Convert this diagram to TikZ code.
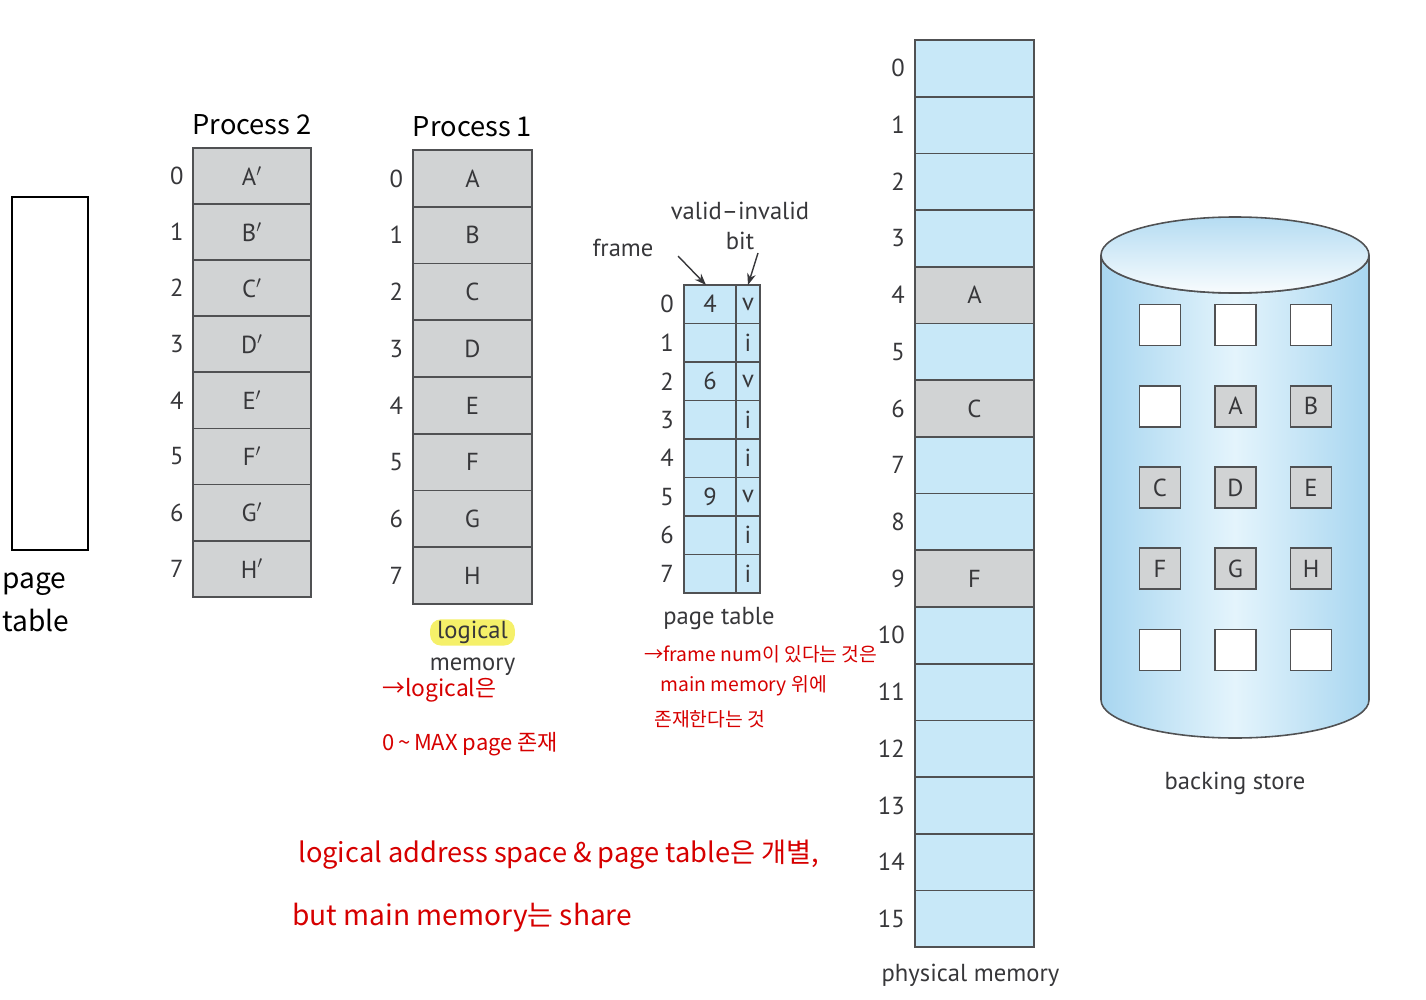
\documentclass[tikz,border=0pt]{standalone}
\usepackage{fontspec}
\setmainfont{PT Sans}
\newfontfamily\handfont{Noto Sans CJK KR}
\usetikzlibrary{arrows.meta, positioning}
\definecolor{memblue}{RGB}{200,232,248}
\definecolor{memgray}{RGB}{209,211,212}
\definecolor{lineclr}{RGB}{80,81,83}
\definecolor{txtclr}{RGB}{55,55,58}
\definecolor{notered}{RGB}{214,0,0}
\definecolor{hlyellow}{RGB}{245,240,105}
\definecolor{cylside}{RGB}{168,214,240}
\definecolor{cylmid}{RGB}{228,244,252}

\begin{document}
\begin{tikzpicture}[
  x=0.02cm, y=-0.02cm, >=Stealth,
  cellbox/.style={
    draw=lineclr, line width=1pt, inner sep=0pt, outer sep=0pt,
    font=\fontsize{14}{16}\selectfont, text=txtclr
  },
  proccell/.style={cellbox, fill=memgray, minimum width=2.37cm},
  ptcell/.style={cellbox, fill=memblue, minimum height=0.77cm},
  physcell/.style={cellbox, minimum width=2.38cm, minimum height=1.134cm},
  bsbox/.style={cellbox, minimum width=0.82cm, minimum height=0.82cm},
  idxlabel/.style={inner sep=0pt, font=\fontsize{14}{16}\selectfont, text=txtclr},
  caption/.style={inner sep=1pt, font=\fontsize{14}{17}\selectfont, text=txtclr, align=center},
  handnote/.style={inner sep=0pt, font=\handfont\fontsize{15.5}{19}\selectfont, text=black},
  rednote/.style={inner sep=0pt, font=\handfont\fontsize{11}{14}\selectfont, text=notered, anchor=west},
  ptarrow/.style={->, line width=0.8pt, txtclr},
]
\useasboundingbox (0,0) rectangle (1426,1000);
% --- empty page table ---
\node[draw=black, line width=1.6pt, minimum width=1.52cm, minimum height=7.06cm, inner sep=0pt] (emptypt) at (50,373.5) {};
\node[handnote, align=left, anchor=north west, font=\handfont\fontsize{16}{25}\selectfont] (emptyptlbl) at (2,572) {page\\table};
% --- Process 2 ---
\foreach \lbl [count=\i from 0] in {A,B,C,D,E,F,G,H} {
  \node[proccell, minimum height=1.12cm] (ptwo-\i) at (252,{176+56.1*\i}) {\lbl$'$};
  \node[idxlabel, left=0.18cm of ptwo-\i] (ptwoidx-\i) {\i};
}
\node[handnote, above=0.25cm of ptwo-0] (ptwohead) {Process 2};
% --- Process 1 ---
\foreach \lbl [count=\i from 0] in {A,B,C,D,E,F,G,H} {
  \node[proccell, minimum height=1.135cm] (pone-\i) at (472.5,{178.4+56.75*\i}) {\lbl};
  \node[idxlabel, left=0.2cm of pone-\i] (poneidx-\i) {\i};
}
\node[handnote, above=0.25cm of pone-0] (ponehead) {Process 1};
\node[caption, fill=hlyellow, rounded corners=6pt, inner xsep=4pt, inner ysep=1pt, below=0.3cm of pone-7] (logword) {logical};
\node[caption, below=0.2cm of logword] (memword) {memory};
\node[rednote, font=\handfont\fontsize{13}{15}\selectfont] (lognote1) at (382,690) {→logical은};
\node[rednote, font=\handfont\fontsize{12.5}{15}\selectfont] (lognote2) at (382,744) {0\,\textasciitilde\,MAX page 존재};
% --- page table of Process 1 ---
\foreach \fr/\bt [count=\i from 0] in {4/v, /i, 6/v, /i, /i, 9/v, /i, /i} {
  \node[ptcell, minimum width=1.04cm] (ptf-\i) at (710,{304.25+38.5*\i}) {\fr};
  \node[ptcell, minimum width=0.48cm, right=0pt of ptf-\i] (ptb-\i) {\bt};
  \node[idxlabel, left=0.2cm of ptf-\i] (ptidx-\i) {\i};
}
\node[caption] (framelbl) at (623,248) {frame};
\node[caption, align=center] (bitlbl) at (740,226) {valid–invalid\\bit};
\coordinate (framearr) at (678,256);
\coordinate (bitarr) at (758,253);
\draw[ptarrow] (framearr) -- ([xshift=-0.08cm]ptf-0.north);
\draw[ptarrow] (bitarr) -- (ptb-0.north);
\node[caption, below=0.25cm of ptf-7.south, xshift=0.18cm] (ptcap) {page table};
\node[rednote] (ptnote1) at (644,654) {→frame num이 있다는 것은};
\node[rednote] (ptnote2) at (660,686) {main memory 위에};
\node[rednote] (ptnote3) at (654,719) {존재한다는 것};
% --- physical memory ---
\foreach \clr/\lbl [count=\i from 0] in {memblue/{}, memblue/{}, memblue/{}, memblue/{},
    memgray/A, memblue/{}, memgray/C, memblue/{}, memblue/{}, memgray/F,
    memblue/{}, memblue/{}, memblue/{}, memblue/{}, memblue/{}, memblue/{}} {
  \node[physcell, fill=\clr] (phys-\i) at (974.5,{68.35+56.7*\i}) {\lbl};
  \node[idxlabel, left=0.2cm of phys-\i] (physidx-\i) {\i};
}
\node[caption, below=0.3cm of phys-15, xshift=-0.08cm] (physcap) {physical memory};
% --- backing store ---
\path[draw=lineclr, line width=0.9pt, left color=cylside, right color=cylside, middle color=cylmid]
  (1101,255) -- (1101,700) arc[start angle=180, end angle=0, x radius=134, y radius=38]
  -- (1369,255) arc[start angle=0, end angle=180, x radius=134, y radius=38] -- cycle;
\path[draw=lineclr, line width=0.9pt, top color=cylside!85, bottom color=white!92!cylside]
  (1235,255) ellipse[x radius=134, y radius=38];
\foreach \col/\row in {0/0, 1/0, 2/0, 0/1, 0/4, 1/4, 2/4} {
  \node[bsbox, fill=white] (bsempty-\col\row) at ({1160+75.5*\col},{325+81.25*\row}) {};
}
\foreach \col/\row/\lbl in {1/1/A, 2/1/B, 0/2/C, 1/2/D, 2/2/E, 0/3/F, 1/3/G, 2/3/H} {
  \node[bsbox, fill=memgray] (bs-\lbl) at ({1160+75.5*\col},{325+81.25*\row}) {\lbl};
}
\node[caption] (bscap) at (1235,783) {backing store};
% --- notes at the bottom ---
\node[rednote, font=\handfont\fontsize{15.5}{18}\selectfont] (bignote1) at (298,855) {logical address space \& page table은 개별,};
\node[rednote, font=\handfont\fontsize{16}{19}\selectfont] (bignote2) at (292,918) {but main memory는 share};
\end{tikzpicture}
\end{document}
